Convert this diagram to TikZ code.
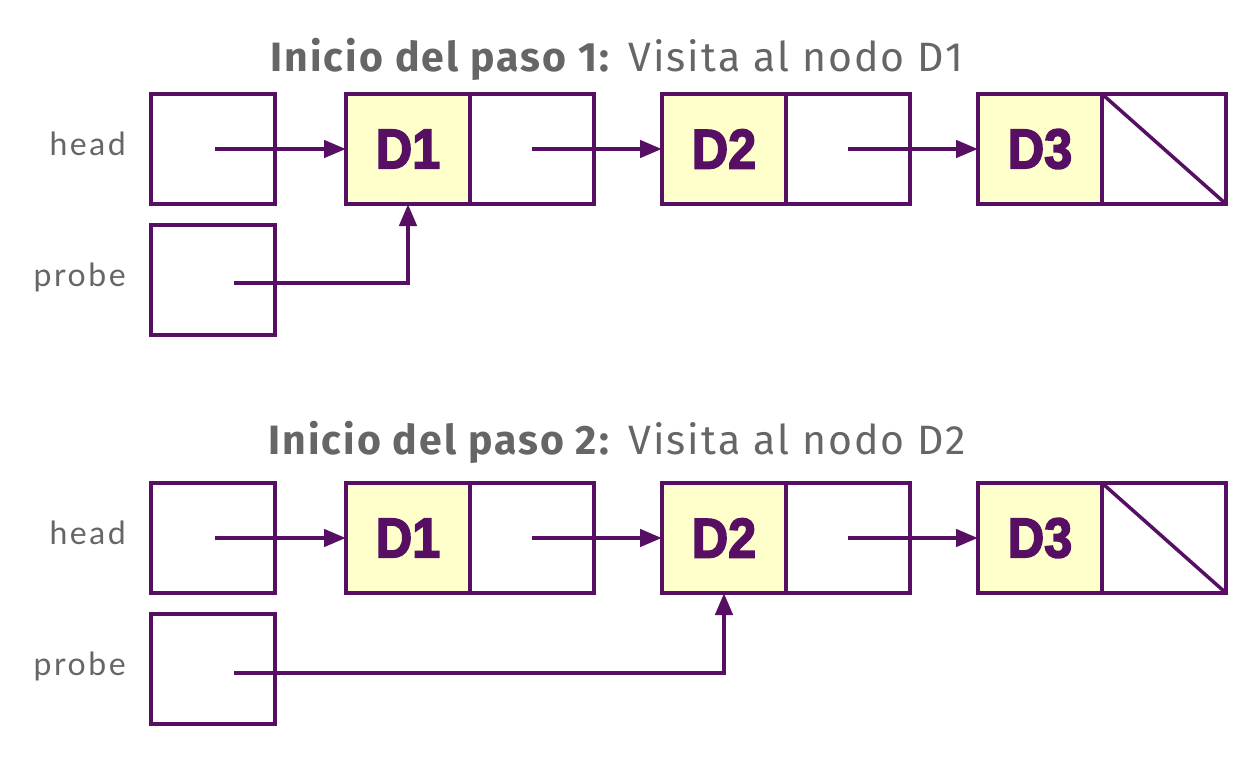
\documentclass[tikz,border=0pt]{standalone}
\usepackage{fontspec}
\setmainfont{Fira Sans}
\newfontfamily\ttlfont{Fira Sans}[LetterSpace=5]
\newfontfamily\labfont{Lato}[LetterSpace=8]
\newfontfamily\dfont{Liberation Sans}[FakeBold=3]
\usetikzlibrary{arrows.meta}
\definecolor{pur}{HTML}{560F63}
\definecolor{cellyel}{HTML}{FFFFCC}
\definecolor{txtgrey}{HTML}{666666}
\begin{document}
\begin{tikzpicture}[x=1pt,y=-1pt,
  box/.style={draw=pur,line width=4.5pt,minimum width=124pt,minimum height=110pt,inner sep=0pt,outer sep=0pt},
  datacell/.style={box,fill=cellyel,font=\dfont\bfseries\fontsize{56}{60}\selectfont,text=pur},
  ptr/.style={draw=pur,line width=4.5pt,-{Triangle[length=22pt,width=17pt]}},
  nullline/.style={draw=pur,line width=3.5pt},
  lab/.style={text=txtgrey,font=\labfont\fontsize{32}{36}\selectfont,anchor=base east,inner sep=0pt},
  ttl/.style={text=txtgrey,font=\ttlfont\fontsize{41}{45}\selectfont,anchor=base,inner sep=0pt}]
\useasboundingbox[fill=white] (0,0) rectangle (1248,771);

% ---------- step 1 ----------
\node[ttl] (t1) at (617,71) {\textbf{Inicio del paso 1:} Visita al nodo D1};
\node[lab] (hl1) at (126,155) {head};
\node[lab] (pl1) at (126,286) {probe};
\node[box] (head1) at (213,149) {};
\node[box] (probe1) at (213,280) {};
\node[datacell] (a1) at (408,149) {\scalebox{0.9}[1]{D1}};
\node[box] (a1p) at (532,149) {};
\node[datacell] (b1) at (724,149) {\scalebox{0.9}[1]{D2}};
\node[box] (b1p) at (848,149) {};
\node[datacell] (c1) at (1040,149) {\scalebox{0.9}[1]{D3}};
\node[box] (c1p) at (1164,149) {};
\draw[nullline] (c1p.north west) -- (c1p.south east);
\draw[ptr] ([xshift=2pt]head1.center) -- (a1.west);
\draw[ptr] (a1p.center) -- (b1.west);
\draw[ptr] (b1p.center) -- (c1.west);
\draw[ptr] ([xshift=21pt,yshift=-3pt]probe1.center) -| (a1.south);

% ---------- step 2 ----------
\node[ttl] (t2) at (617,454) {\textbf{Inicio del paso 2:} Visita al nodo D2};
\node[lab] (hl2) at (126,544) {head};
\node[lab] (pl2) at (126,675) {probe};
\node[box] (head2) at (213,538) {};
\node[box] (probe2) at (213,669) {};
\node[datacell] (a2) at (408,538) {\scalebox{0.9}[1]{D1}};
\node[box] (a2p) at (532,538) {};
\node[datacell] (b2) at (724,538) {\scalebox{0.9}[1]{D2}};
\node[box] (b2p) at (848,538) {};
\node[datacell] (c2) at (1040,538) {\scalebox{0.9}[1]{D3}};
\node[box] (c2p) at (1164,538) {};
\draw[nullline] (c2p.north west) -- (c2p.south east);
\draw[ptr] ([xshift=2pt]head2.center) -- (a2.west);
\draw[ptr] (a2p.center) -- (b2.west);
\draw[ptr] (b2p.center) -- (c2.west);
\draw[ptr] ([xshift=21pt,yshift=-4pt]probe2.center) -| (b2.south);
\end{tikzpicture}
\end{document}
